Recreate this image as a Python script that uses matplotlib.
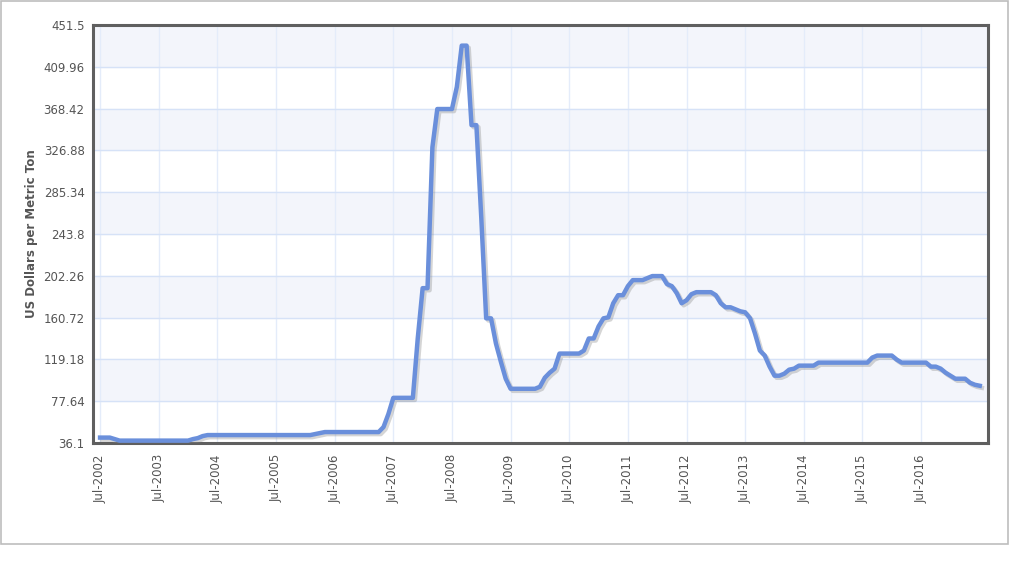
import numpy as np
import matplotlib.pyplot as plt
import matplotlib.patheffects as pe
from matplotlib.patches import Rectangle

# monthly price, Jul-2002 onwards (US$ per metric ton)
prices = [
    41.5, 41.5, 41.5, 40, 38.5, 38.5, 38.5, 38.5, 38.5, 38.5, 38.5, 38.5,      # 2002-07 .. 2003-06
    38.5, 38.5, 38.5, 38.5, 38.5, 38.5, 38.5, 40, 41, 43, 44, 44,              # 2003-07 .. 2004-06
    44, 44, 44, 44, 44, 44, 44, 44, 44, 44, 44, 44,                            # 2004-07 .. 2005-06
    44, 44, 44, 44, 44, 44, 44, 44, 45, 46, 47, 47,                            # 2005-07 .. 2006-06
    47, 47, 47, 47, 47, 47, 47, 47, 47, 47, 52, 65,                            # 2006-07 .. 2007-06
    81, 81, 81, 81, 81, 140, 190, 190, 330, 368, 368, 368,                     # 2007-07 .. 2008-06
    368, 390, 431, 431, 352, 352, 260, 160, 160, 135, 117, 100,                # 2008-07 .. 2009-06
    90, 90, 90, 90, 90, 90, 92, 101, 106, 110, 125, 125,                       # 2009-07 .. 2010-06
    125, 125, 125, 128, 140, 140, 152, 160, 161, 175, 183, 183,                # 2010-07 .. 2011-06
    192, 198, 198, 198, 200, 202, 202, 202, 194, 192, 185, 175,                # 2011-07 .. 2012-06
    178, 184, 186, 186, 186, 186, 183, 175, 171, 171, 169, 167,                # 2012-07 .. 2013-06
    166, 160, 145, 128, 123, 112, 103, 103, 105, 109, 110, 113,                # 2013-07 .. 2014-06
    113, 113, 113, 116, 116, 116, 116, 116, 116, 116, 116, 116,                # 2014-07 .. 2015-06
    116, 116, 121, 123, 123, 123, 123, 119, 116, 116, 116, 116,                # 2015-07 .. 2016-06
    116, 116, 112, 112, 110, 106, 103, 100, 100, 100, 96, 94,                  # 2016-07 .. 2017-06
    93,
]
years = list(range(2002, 2017))
tick_labels = ["Jul-%d" % y for y in years]
y_min, y_step, n_steps = 36.1, 41.54, 10
y_label = "US Dollars per Metric Ton"

months = np.arange(len(prices))
yticks = [round(y_min + k * y_step, 2) for k in range(n_steps + 1)]

fig = plt.figure(figsize=(10.15, 5.63), dpi=100)
ax = fig.add_axes([0.0916, 0.2131, 0.8814, 0.7425])

# light outer frame around the whole chart
fig.patches.append(Rectangle((0.001, 0.034), 0.992, 0.964, transform=fig.transFigure,
                             fill=False, edgecolor='#bdbdbd', linewidth=1.2))

# alternating bands
for k in range(1, n_steps, 2):
    ax.axhspan(yticks[k], yticks[k + 1], color='#f3f5fb', zorder=0)

ax.set_ylim(yticks[0], yticks[-1])
ax.set_xlim(-1.45, 181.6)
ax.set_yticks(yticks)
ax.set_yticklabels(["%g" % v for v in yticks])
ax.set_xticks(months[::12][:len(tick_labels)])
ax.set_xticklabels(tick_labels, rotation=90)

ax.grid(axis='y', color='#d6e2f7', linewidth=1.0, zorder=1)
ax.grid(axis='x', color='#e4ecfa', linewidth=1.0, zorder=1)
ax.set_axisbelow(True)

ax.plot(months, prices, color='#6a8fdb', linewidth=3.2, solid_joinstyle='round',
        zorder=3,
        path_effects=[pe.SimpleLineShadow(offset=(1.5, -1.5), shadow_color='#888888', alpha=0.35),
                      pe.Normal()])

for s in ax.spines.values():
    s.set_color('#5f5f5f')
    s.set_linewidth(2.2)

ax.tick_params(axis='both', length=0, colors='#555555', labelsize=8.5)
ax.tick_params(axis='y', pad=6)
ax.tick_params(axis='x', pad=8)
ax.set_ylabel(y_label, fontsize=8.5, fontweight='bold', color='#555555', labelpad=4)

fig.savefig('out.png', dpi=100)
